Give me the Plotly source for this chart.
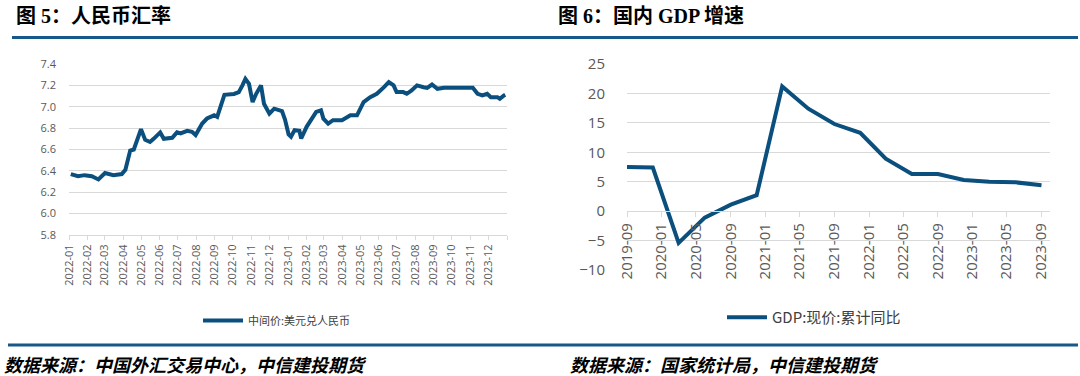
import plotly.graph_objects as go

W, H = 1080, 376

# ---------------- data ----------------
fx_dates = [
    "2022-01-04", "2022-01-16", "2022-01-27", "2022-02-08", "2022-02-19", "2022-03-02",
    "2022-03-16", "2022-03-30", "2022-04-05", "2022-04-13", "2022-04-19", "2022-05-01",
    "2022-05-08", "2022-05-16", "2022-05-22", "2022-06-02", "2022-06-08", "2022-06-22",
    "2022-06-30", "2022-07-06", "2022-07-17", "2022-07-25", "2022-07-31", "2022-08-11",
    "2022-08-19", "2022-08-31", "2022-09-05", "2022-09-11", "2022-09-17", "2022-10-03",
    "2022-10-11", "2022-10-17", "2022-10-22", "2022-10-28", "2022-11-03", "2022-11-09",
    "2022-11-17", "2022-11-22", "2022-12-01", "2022-12-09", "2022-12-17", "2022-12-22",
    "2022-12-27", "2023-01-02", "2023-01-06", "2023-01-12", "2023-01-20", "2023-01-23",
    "2023-02-01", "2023-02-09", "2023-02-17", "2023-02-25", "2023-03-01", "2023-03-09",
    "2023-03-17", "2023-04-01", "2023-04-15", "2023-04-26", "2023-05-07", "2023-05-18",
    "2023-05-29", "2023-06-10", "2023-06-18", "2023-06-26", "2023-07-01", "2023-07-12",
    "2023-07-18", "2023-07-26", "2023-08-04", "2023-08-15", "2023-08-21", "2023-08-29",
    "2023-09-07", "2023-09-18", "2023-10-16", "2023-11-05", "2023-11-13", "2023-11-21",
    "2023-11-29", "2023-12-05", "2023-12-16", "2023-12-20", "2023-12-27", "2023-12-29",
]
fx_values = [
    6.37, 6.35, 6.36, 6.35, 6.32, 6.38,
    6.36, 6.37, 6.41, 6.59, 6.60, 6.79,
    6.69, 6.67, 6.70, 6.76, 6.70, 6.71,
    6.76, 6.75, 6.775, 6.765, 6.735, 6.843,
    6.89, 6.92, 6.905, 7.00, 7.112, 7.12,
    7.137, 7.20, 7.261, 7.214, 7.044, 7.121,
    7.20, 7.028, 6.936, 6.982, 6.967, 6.96,
    6.88, 6.74, 6.719, 6.781, 6.775, 6.703,
    6.812, 6.874, 6.951, 6.967, 6.889, 6.843,
    6.874, 6.874, 6.92, 6.92, 7.044, 7.09,
    7.121, 7.183, 7.23, 7.20, 7.137, 7.137,
    7.121, 7.152, 7.20, 7.183, 7.177, 7.208,
    7.168, 7.177, 7.177, 7.177, 7.121, 7.106,
    7.121, 7.09, 7.09, 7.075, 7.106, 7.112,
]
fx_tick_vals = [
    "2022-01-01", "2022-02-01", "2022-03-01", "2022-04-01", "2022-05-01", "2022-06-01",
    "2022-07-01", "2022-08-01", "2022-09-01", "2022-10-01", "2022-11-01", "2022-12-01",
    "2023-01-01", "2023-02-01", "2023-03-01", "2023-04-01", "2023-05-01", "2023-06-01",
    "2023-07-01", "2023-08-01", "2023-09-01", "2023-10-01", "2023-11-01", "2023-12-01",
    "2024-01-01",
]
fx_tick_text = [
    "2022-01", "2022-02", "2022-03", "2022-04", "2022-05", "2022-06",
    "2022-07", "2022-08", "2022-09", "2022-10", "2022-11", "2022-12",
    "2023-01", "2023-02", "2023-03", "2023-04", "2023-05", "2023-06",
    "2023-07", "2023-08", "2023-09", "2023-10", "2023-11", "2023-12",
    "",
]

gdp_dates = [
    "2019-09-01", "2019-12-01", "2020-03-01", "2020-06-01", "2020-09-01", "2020-12-01",
    "2021-03-01", "2021-06-01", "2021-09-01", "2021-12-01", "2022-03-01", "2022-06-01",
    "2022-09-01", "2022-12-01", "2023-03-01", "2023-06-01", "2023-09-01",
]
gdp_values = [7.5, 7.4, -5.4, -1.1, 1.1, 2.7, 21.2, 17.4, 14.8, 13.3, 8.9, 6.3,
              6.3, 5.3, 5.0, 4.9, 4.4]

fx_name = "中间价:美元兑人民币"
gdp_name = "GDP:现价:累计同比"

# ---------------- style ----------------
LINE = "#0b4f7e"
BAR = "#16588a"
GRID = "#d9d9d9"
TICK = "#595959"
NUM_FONT = "Open Sans, Noto Sans CJK SC, sans-serif"
CJK = "Noto Sans CJK SC, sans-serif"


def px_x(x):
    return x / W


def px_y(y):
    return 1 - y / H


fx_range = [5.8, 7.4]
gdp_range = [-10, 25]
left_dom_y = [px_y(235), px_y(64)]
right_dom_y = [px_y(270), px_y(64)]
zero_pos = right_dom_y[0] + (0 - gdp_range[0]) / (gdp_range[1] - gdp_range[0]) * (right_dom_y[1] - right_dom_y[0])

fig = go.Figure()
fig.add_trace(go.Scatter(
    x=fx_dates, y=fx_values, mode="lines", name=fx_name,
    line=dict(color=LINE, width=4), xaxis="x", yaxis="y", legend="legend",
))
fig.add_trace(go.Scatter(
    x=gdp_dates, y=gdp_values, mode="lines", name=gdp_name,
    line=dict(color=LINE, width=4), xaxis="x2", yaxis="y2", legend="legend2",
))

fig.update_layout(
    width=W, height=H,
    margin=dict(l=0, r=0, t=0, b=0, pad=0, autoexpand=False),
    paper_bgcolor="white", plot_bgcolor="white",
    font=dict(family=NUM_FONT, color=TICK),
    xaxis=dict(
        domain=[px_x(69), px_x(507)], anchor="y", type="date",
        range=["2022-01-01", "2024-01-01"],
        tickmode="array", tickvals=fx_tick_vals, ticktext=fx_tick_text,
        tickangle=-90, tickfont=dict(size=11, color=TICK, family=NUM_FONT),
        showgrid=False, showline=True, linecolor=GRID, linewidth=1,
        ticks="outside", ticklen=4, tickcolor=GRID, zeroline=False, automargin=False,
    ),
    yaxis=dict(
        domain=left_dom_y, anchor="x", range=fx_range, dtick=0.2, tickformat=".1f",
        tickfont=dict(size=11, color=TICK, family=NUM_FONT),
        showgrid=True, gridcolor=GRID, gridwidth=1, zeroline=False,
        showline=False, ticks="", ticklabelstandoff=12, automargin=False,
    ),
    xaxis2=dict(
        domain=[px_x(627), px_x(1050)], anchor="free", position=zero_pos, type="date",
        range=["2019-09-01", "2023-10-01"], tick0="2019-09-01", dtick="M4",
        tickformat="%Y-%m", tickangle=-90,
        tickfont=dict(size=15, color=TICK, family=NUM_FONT),
        showgrid=False, showline=True, linecolor=GRID, linewidth=1,
        ticks="outside", ticklen=5, tickcolor=GRID, zeroline=False, automargin=False,
    ),
    yaxis2=dict(
        domain=right_dom_y, anchor="x2", range=gdp_range, dtick=5,
        tickfont=dict(size=15, color=TICK, family=NUM_FONT),
        showgrid=True, gridcolor=GRID, gridwidth=1, zeroline=False,
        showline=False, ticks="", ticklabelstandoff=21, automargin=False,
    ),
    legend=dict(
        x=px_x(198), y=px_y(306), xanchor="left", yanchor="top",
        font=dict(size=11, color="#404040", family=CJK),
        bgcolor="rgba(0,0,0,0)", itemwidth=40,
    ),
    legend2=dict(
        x=px_x(722), y=px_y(301), xanchor="left", yanchor="top",
        font=dict(size=15, color="#404040", family=CJK),
        bgcolor="rgba(0,0,0,0)", itemwidth=40,
    ),
    showlegend=True,
)

# header / footer rules
shapes = [
    dict(type="line", xref="paper", yref="paper", x0=px_x(12), x1=px_x(540),
         y0=px_y(37.5), y1=px_y(37.5), line=dict(color=BAR, width=3)),
    dict(type="line", xref="paper", yref="paper", x0=px_x(540), x1=px_x(1078),
         y0=px_y(37.5), y1=px_y(37.5), line=dict(color=BAR, width=3)),
    dict(type="line", xref="paper", yref="paper", x0=px_x(8), x1=px_x(1078),
         y0=px_y(345), y1=px_y(345), line=dict(color=BAR, width=3)),
]
fig.update_layout(shapes=shapes)

TITLE_FONT = "Liberation Serif, Noto Sans CJK SC, serif"
annotations = [
    dict(text="<b>图 5：人民币汇率</b>", x=px_x(14), y=px_y(16), xref="paper", yref="paper",
         xanchor="left", yanchor="middle", showarrow=False,
         font=dict(size=20, color="black", family=TITLE_FONT)),
    dict(text="<b>图 6：国内 GDP 增速</b>", x=px_x(556), y=px_y(16), xref="paper", yref="paper",
         xanchor="left", yanchor="middle", showarrow=False,
         font=dict(size=20, color="black", family=TITLE_FONT)),
    dict(text="数据来源：中国外汇交易中心，中信建投期货", x=px_x(2), y=px_y(364), xref="paper", yref="paper",
         xanchor="left", yanchor="middle", showarrow=False,
         font=dict(size=18, color="black", family=CJK, weight="bold", style="italic")),
    dict(text="数据来源：国家统计局，中信建投期货", x=px_x(568), y=px_y(364), xref="paper", yref="paper",
         xanchor="left", yanchor="middle", showarrow=False,
         font=dict(size=18, color="black", family=CJK, weight="bold", style="italic")),
]
fig.update_layout(annotations=annotations)

fig.write_html("out.html", config={"displayModeBar": False},
               post_script="document.body.style.margin='0px';")
